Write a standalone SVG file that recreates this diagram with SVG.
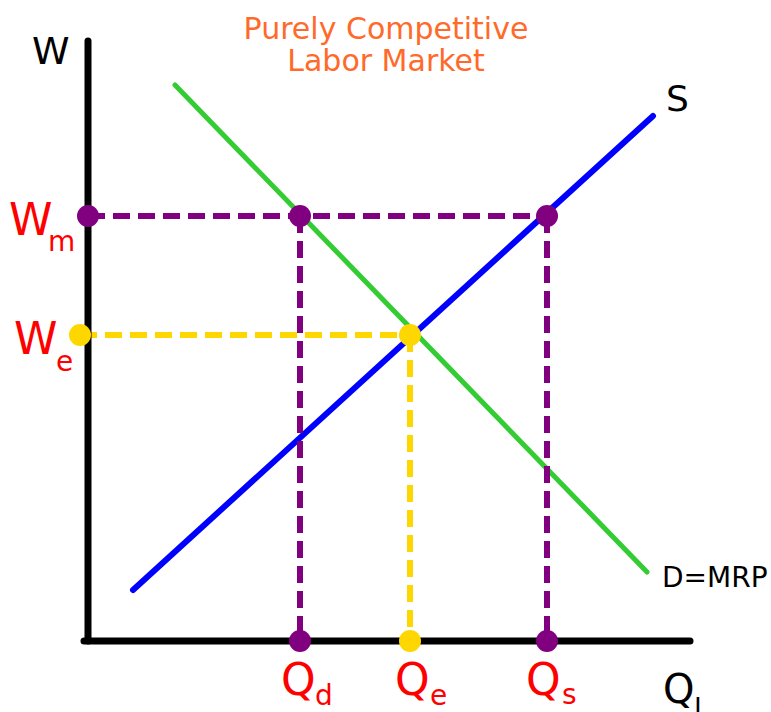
<svg xmlns="http://www.w3.org/2000/svg" width="771" height="712" viewBox="0 0 771 712">
<style>
text{font-family:"DejaVu Sans","Liberation Sans",sans-serif}
.title{fill:#FF6A2A;font-size:30px;text-anchor:middle}
.red{fill:#FF0000}
.big{font-size:44px}
.sub{font-size:28px}
.blk{fill:#000}
.purple{stroke:#800080;stroke-width:6;stroke-dasharray:17 8;fill:none}
.yellow{stroke:#FFD700;stroke-width:6;stroke-dasharray:17 8;fill:none}
.pd{fill:#800080}
.yd{fill:#FFD700}
</style>
<rect width="771" height="712" fill="#fff"/>
<g id="title">
<text class="title" x="386" y="39">Purely Competitive</text>
<text class="title" x="386" y="71">Labor Market</text>
</g>
<g id="connectors">
<line id="s-curve" x1="133" y1="590" x2="653" y2="116" stroke="#0000FF" stroke-width="6" stroke-linecap="round"/>
<line id="d-curve" x1="175" y1="85" x2="647" y2="572" stroke="#33CC33" stroke-width="5" stroke-linecap="round"/>
<path class="purple" d="M88 216H547"/>
<path class="purple" d="M300 216V641"/>
<path class="purple" d="M547 216V641"/>
<path class="yellow" d="M80 335H410"/>
<path class="yellow" d="M410 335V641"/>
</g>
<g id="axes" stroke="#000" stroke-width="7" stroke-linecap="round">
<line x1="88" y1="41" x2="88" y2="641"/>
<line x1="84" y1="641" x2="690" y2="641"/>
</g>
<g id="points">
<circle class="pd" cx="88" cy="216" r="11"/>
<circle class="pd" cx="300" cy="216" r="11"/>
<circle class="pd" cx="547" cy="216" r="11"/>
<circle class="yd" cx="80" cy="335" r="11"/>
<circle class="yd" cx="410" cy="335" r="11"/>
<circle class="pd" cx="300" cy="641" r="11"/>
<circle class="yd" cx="410" cy="641" r="11"/>
<circle class="pd" cx="547" cy="641" r="11"/>
</g>
<g id="labels">
<text class="blk" x="32" y="64" font-size="38">W</text>
<text class="blk" x="666" y="111" font-size="36">S</text>
<text class="blk" x="662" y="587" font-size="28">D=MRP</text>
<text class="blk" x="663" y="703" font-size="40">Q<tspan font-size="28" x="694" y="719">l</tspan></text>
<text class="red big" x="9" y="235">W<tspan class="sub" x="48" y="251">m</tspan></text>
<text class="red big" x="14" y="354">W<tspan class="sub" x="56" y="371">e</tspan></text>
<text class="red big" x="281" y="695">Q<tspan class="sub" x="315" y="705">d</tspan></text>
<text class="red big" x="395" y="695">Q<tspan class="sub" x="430" y="705">e</tspan></text>
<text class="red big" x="526" y="695">Q<tspan class="sub" x="562" y="704">s</tspan></text>
</g>
</svg>
